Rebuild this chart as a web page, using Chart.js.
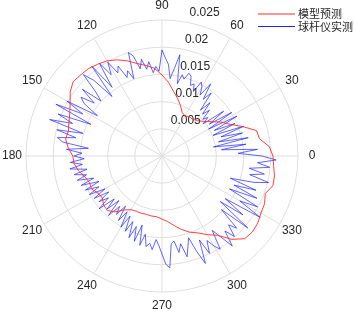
<!DOCTYPE html>
<html>
<head>
<meta charset="utf-8">
<script src="https://cdn.jsdelivr.net/npm/chart.js@4"></script>
<style>body{margin:0;background:#fff}</style>
</head>
<body>
<canvas id="myChart" width="354" height="314"></canvas>
<script>
// polar axis labels
var angleTicks = [0, 30, 60, 90, 120, 150, 180, 210, 240, 270, 300, 330];
var radialTicks = [0.005, 0.01, 0.015, 0.02, 0.025];
var seriesNames = ['模型预测', '球杆仪实测'];

// model prediction, one value every 5 degrees starting at 0
var modelStep = 5;
var modelValues = [
  0.0204, 0.0198, 0.0182, 0.0180, 0.0158, 0.0138, 0.0125, 0.0110, 0.0099, 0.0092,
  0.0088, 0.0088, 0.0085, 0.0088, 0.0099, 0.0110, 0.0121, 0.0136, 0.0149, 0.0162,
  0.0169, 0.0176, 0.0186, 0.0195, 0.0202, 0.0206, 0.0210, 0.0211, 0.0213, 0.0206,
  0.0195, 0.0187, 0.0182, 0.0178, 0.0180, 0.0173, 0.0164, 0.0162, 0.0156, 0.0147,
  0.0142, 0.0143, 0.0136, 0.0134, 0.0140, 0.0142, 0.0134, 0.0121, 0.0114, 0.0112,
  0.0112, 0.0111, 0.0112, 0.0112, 0.0116, 0.0121, 0.0130, 0.0140, 0.0149, 0.0156,
  0.0167, 0.0178, 0.0200, 0.0215, 0.0217, 0.0215, 0.0210, 0.0208, 0.0202, 0.0211,
  0.0210, 0.0206
];

// ballbar measurement, one value every 2 degrees starting at 0
var measStep = 2;
var measValues = [
  0.0184, 0.0140, 0.0176, 0.0110, 0.0156, 0.0096, 0.0162, 0.0107, 0.0154, 0.0114,
  0.0160, 0.0101, 0.0147, 0.0107, 0.0156, 0.0099, 0.0151, 0.0105, 0.0140, 0.0096,
  0.0110, 0.0101, 0.0121, 0.0107, 0.0132, 0.0110, 0.0147, 0.0129, 0.0160, 0.0132,
  0.0147, 0.0154, 0.0132, 0.0145, 0.0140, 0.0156, 0.0160, 0.0147, 0.0154, 0.0136,
  0.0189, 0.0162, 0.0143, 0.0169, 0.0180, 0.0195, 0.0156, 0.0165, 0.0154, 0.0175,
  0.0162, 0.0182, 0.0165, 0.0191, 0.0200, 0.0151, 0.0169, 0.0158, 0.0184, 0.0173,
  0.0199, 0.0176, 0.0206, 0.0156, 0.0210, 0.0143, 0.0187, 0.0208, 0.0169, 0.0151,
  0.0191, 0.0158, 0.0184, 0.0173, 0.0140, 0.0202, 0.0165, 0.0217, 0.0143, 0.0206,
  0.0175, 0.0217, 0.0151, 0.0199, 0.0162, 0.0195, 0.0184, 0.0136, 0.0176, 0.0147,
  0.0162, 0.0143, 0.0169, 0.0147, 0.0171, 0.0140, 0.0165, 0.0143, 0.0162, 0.0132,
  0.0158, 0.0125, 0.0154, 0.0129, 0.0151, 0.0121, 0.0147, 0.0118, 0.0143, 0.0125,
  0.0151, 0.0118, 0.0140, 0.0114, 0.0147, 0.0121, 0.0136, 0.0114, 0.0143, 0.0121,
  0.0151, 0.0125, 0.0154, 0.0132, 0.0162, 0.0138, 0.0165, 0.0132, 0.0169, 0.0147,
  0.0169, 0.0162, 0.0173, 0.0154, 0.0165, 0.0180, 0.0199, 0.0206, 0.0162, 0.0158,
  0.0180, 0.0165, 0.0191, 0.0173, 0.0158, 0.0187, 0.0213, 0.0169, 0.0199, 0.0176,
  0.0191, 0.0202, 0.0165, 0.0184, 0.0210, 0.0180, 0.0199, 0.0176, 0.0191, 0.0147,
  0.0206, 0.0136, 0.0184, 0.0140, 0.0213, 0.0165, 0.0199, 0.0138, 0.0191, 0.0143,
  0.0184, 0.0132, 0.0176, 0.0202, 0.0165, 0.0191, 0.0162, 0.0199, 0.0176, 0.0210
];

// radar goes clockwise from startAngle, so slot i sits at (360 - i) degrees
var labels = [];
for (var d = 0; d < 360; d++) labels.push(String((360 - d) % 360));

function toSlots(values, step) {
  var out = new Array(360).fill(null);
  values.forEach(function (v, i) {
    out[(360 - i * step) % 360] = v;
  });
  return out;
}

var textColor = '#262626';
var gridColor = '#dedede';

var polarText = {
  id: 'polarText',
  beforeDatasetsDraw: function (chart) {
    var s = chart.scales.r, c = chart.ctx;
    c.save();
    c.font = '12px "Liberation Sans", Arial, sans-serif';
    c.fillStyle = textColor;
    c.textBaseline = 'middle';
    c.textAlign = 'left';
    radialTicks.forEach(function (v) {
      var p = s.getPointPosition(280, s.getDistanceFromCenterForValue(v));
      c.fillText(String(v), p.x + 4, p.y - 9);
    });
    c.textAlign = 'center';
    angleTicks.forEach(function (a) {
      var p = s.getPointPosition((360 - a) % 360, s.drawingArea + 14);
      c.fillText(String(a), p.x, p.y);
    });
    c.restore();
  },
  afterDraw: function (chart) {
    var c = chart.ctx;
    c.save();
    c.font = '11px "Noto Sans CJK SC", sans-serif';
    c.textBaseline = 'middle';
    c.textAlign = 'left';
    chart.data.datasets.forEach(function (ds, i) {
      var y = 14 + i * 12.5;
      c.strokeStyle = ds.borderColor;
      c.lineWidth = 1;
      c.beginPath();
      c.moveTo(258, y);
      c.lineTo(295, y);
      c.stroke();
      c.fillStyle = textColor;
      c.fillText(ds.label, 298, y);
    });
    c.restore();
  }
};

var ctx = document.getElementById('myChart').getContext('2d');
var chart = new Chart(ctx, {
  type: 'radar',
  data: {
    labels: labels,
    datasets: [{
      label: seriesNames[0],
      data: toSlots(modelValues, modelStep),
      borderColor: '#ff2a2a',
      borderWidth: 0.9,
      fill: false,
      spanGaps: true,
      pointRadius: 0,
      tension: 0
    }, {
      label: seriesNames[1],
      data: toSlots(measValues, measStep),
      borderColor: '#2222ff',
      borderWidth: 0.7,
      fill: false,
      spanGaps: true,
      pointRadius: 0,
      tension: 0
    }]
  },
  options: {
    responsive: false,
    animation: false,
    layout: { padding: { left: 26, top: 20, right: 56, bottom: 22 } },
    plugins: { legend: { display: false }, tooltip: { enabled: false } },
    scales: {
      r: {
        startAngle: 90,
        min: 0,
        max: 0.025,
        ticks: { stepSize: 0.005, display: false },
        grid: { circular: true, color: gridColor, lineWidth: 1 },
        angleLines: {
          color: gridColor,
          lineWidth: function (c) { return c.index % 30 === 0 ? 1 : 0; }
        },
        pointLabels: { display: false }
      }
    }
  },
  plugins: [polarText]
});
</script>
</body>
</html>
